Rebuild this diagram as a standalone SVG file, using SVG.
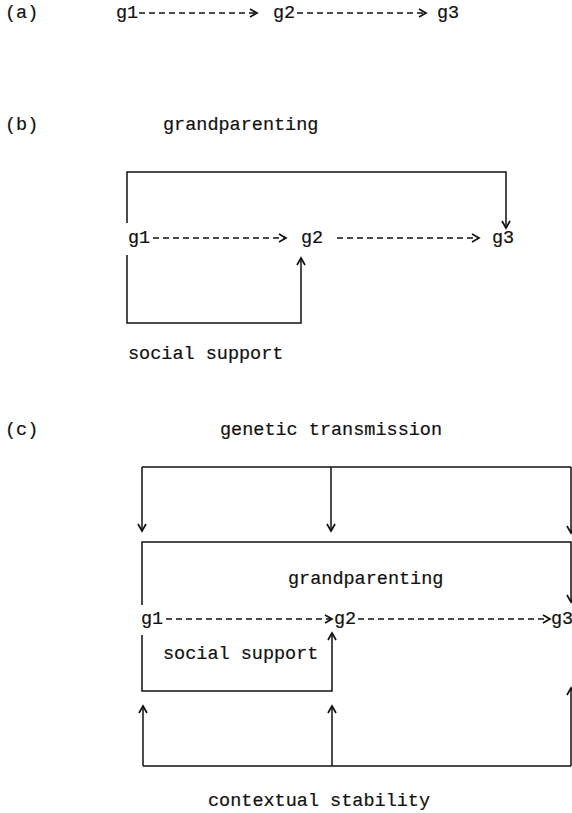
<svg xmlns="http://www.w3.org/2000/svg" width="572" height="813" viewBox="0 0 572 813">
<style>
text{font-family:"Liberation Mono","Courier New",monospace;font-size:18.5px;fill:#111;stroke:#111;stroke-width:0.2}
.ln{fill:none;stroke:#111;stroke-width:1.5}
.dash{fill:none;stroke:#111;stroke-width:1.4;stroke-dasharray:6 4}
</style>
<defs>
<marker id="ah" markerUnits="userSpaceOnUse" markerWidth="12" markerHeight="12" refX="0" refY="0" viewBox="-10 -6 12 12" orient="auto" overflow="visible">
<path d="M-7,-4 L0,0 L-7,4" fill="none" stroke="#111" stroke-width="1.7"/>
</marker>
</defs>
<g id="labels">
<text x="5" y="18">(a)</text>
<text x="5" y="130">(b)</text>
<text x="5" y="435">(c)</text>
</g>
<g id="a-g1"><text x="116" y="18">g1</text></g>
<g id="a-g2"><text x="273" y="18">g2</text></g>
<g id="a-g3"><text x="437" y="18">g3</text></g>
<g id="b-grandparenting"><text x="163" y="130">grandparenting</text></g>
<g id="b-g1"><text x="128" y="243">g1</text></g>
<g id="b-g2"><text x="301" y="243">g2</text></g>
<g id="b-g3"><text x="492" y="243">g3</text></g>
<g id="b-social"><text x="128" y="359">social support</text></g>
<g id="c-genetic"><text x="220" y="435">genetic transmission</text></g>
<g id="c-grandparenting"><text x="288" y="584">grandparenting</text></g>
<g id="c-g1"><text x="141" y="624">g1</text></g>
<g id="c-g2"><text x="334" y="624">g2</text></g>
<g id="c-g3"><text x="551" y="624">g3</text></g>
<g id="c-social"><text x="163" y="659">social support</text></g>
<g id="c-contextual"><text x="208" y="806">contextual stability</text></g>
<g id="connectors">
<line class="dash" x1="139" y1="13" x2="257" y2="13" marker-end="url(#ah)"/>
<line class="dash" x1="297" y1="13" x2="426" y2="13" marker-end="url(#ah)"/>
<line class="dash" x1="153" y1="238" x2="286" y2="238" marker-end="url(#ah)"/>
<line class="dash" x1="337" y1="238" x2="479" y2="238" marker-end="url(#ah)"/>
<path class="ln" d="M127,223 V172 H506 V228" marker-end="url(#ah)"/>
<path class="ln" d="M127,255 V323 H301 V258" marker-end="url(#ah)"/>
<line class="dash" x1="166" y1="619" x2="332" y2="619" marker-end="url(#ah)"/>
<line class="dash" x1="358" y1="619" x2="550" y2="619" marker-end="url(#ah)"/>
<path class="ln" d="M142,467 H571"/>
<line class="ln" x1="142" y1="467" x2="142" y2="531" marker-end="url(#ah)"/>
<line class="ln" x1="331" y1="467" x2="331" y2="531" marker-end="url(#ah)"/>
<line class="ln" x1="571" y1="467" x2="571" y2="533" marker-end="url(#ah)"/>
<path class="ln" d="M142,605 V542 H571 V602" marker-end="url(#ah)"/>
<path class="ln" d="M142,635 V691 H332 V633" marker-end="url(#ah)"/>
<path class="ln" d="M143,766 H571"/>
<line class="ln" x1="143" y1="766" x2="143" y2="706" marker-end="url(#ah)"/>
<line class="ln" x1="332" y1="766" x2="332" y2="706" marker-end="url(#ah)"/>
<line class="ln" x1="571" y1="766" x2="571" y2="688" marker-end="url(#ah)"/>
</g>
</svg>
